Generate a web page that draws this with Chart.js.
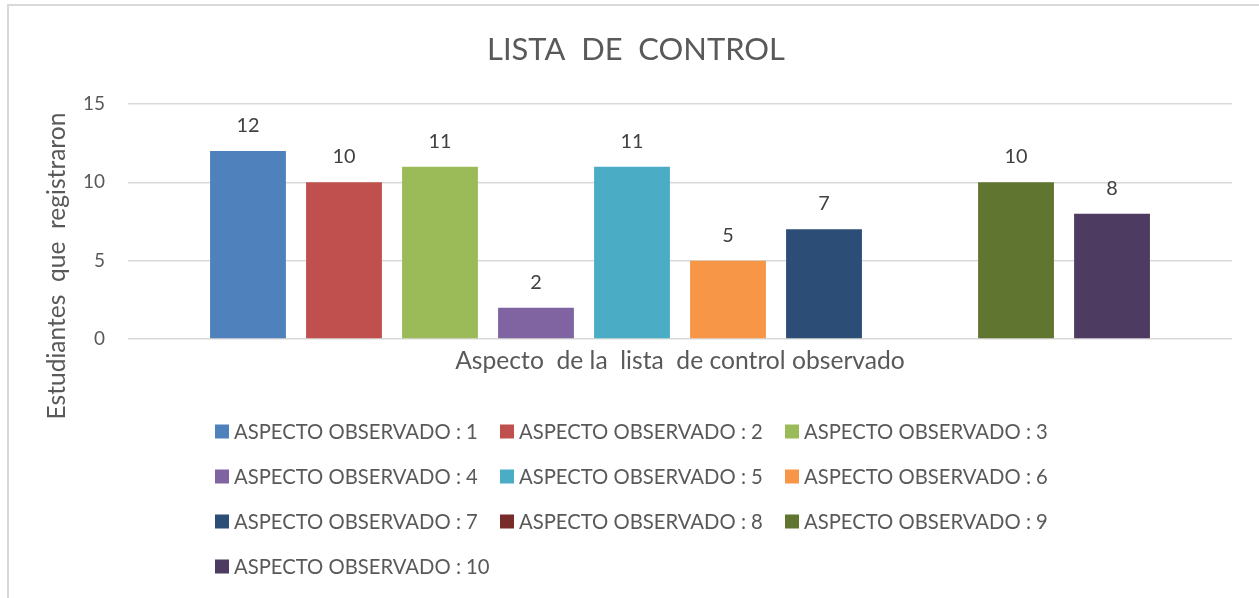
<!DOCTYPE html>
<html>
<head>
<meta charset="utf-8">
<script src="https://cdn.jsdelivr.net/npm/chart.js@4.4.0/dist/chart.umd.min.js"></script>
<style>
  html, body { margin: 0; padding: 0; background: #ffffff; }
  #wrap { width: 1259px; height: 598px; position: relative; }
</style>
</head>
<body>
<div id="wrap"><canvas id="c"></canvas></div>
<script>
// ---- data ----
const categories = [""];
const seriesNames = [
  "ASPECTO OBSERVADO : 1", "ASPECTO OBSERVADO : 2", "ASPECTO OBSERVADO : 3",
  "ASPECTO OBSERVADO : 4", "ASPECTO OBSERVADO : 5", "ASPECTO OBSERVADO : 6",
  "ASPECTO OBSERVADO : 7", "ASPECTO OBSERVADO : 8", "ASPECTO OBSERVADO : 9",
  "ASPECTO OBSERVADO : 10"
];
const seriesValues = [12, 10, 11, 2, 11, 5, 7, null, 10, 8];
const seriesColors = [
  "#4F81BD", "#C0504D", "#9BBB59", "#8064A2", "#4BACC6",
  "#F79646", "#2C4D75", "#772C2A", "#5F7530", "#4D3B62"
];
const yTicks = [0, 5, 10, 15];
const chartTitle = "LISTA  DE  CONTROL";
const xTitle = "Aspecto  de la  lista  de control observado";
const yTitle = "Estudiantes  que  registraron";

// ---- fonts ----
const FAMILY = "Lato, 'Open Sans', sans-serif";
const measurer = document.createElement('canvas').getContext('2d');
function fitSize(text, target) {
  measurer.font = "100px " + FAMILY;
  return 100 * target / measurer.measureText(text).width;
}
const titleSize = fitSize(chartTitle, 298);
const xTitleSize = fitSize(xTitle, 450);
const yTitleSize = fitSize(yTitle, 307);
const legendSize = fitSize(seriesNames[0], 244);
const tickSize = fitSize("15", 22);
const labelSize = fitSize("12", 23);
const CAP = 0.72; // approx cap-height ratio for Lato

const datasets = seriesNames.map((name, i) => ({
  label: name,
  data: [seriesValues[i]],
  backgroundColor: seriesColors[i],
  borderWidth: 0,
  categoryPercentage: 0.8696,
  barPercentage: 0.79
}));

const deco = {
  id: 'deco',
  beforeDraw(chart) {
    const ctx = chart.ctx;
    ctx.save();
    ctx.fillStyle = '#ffffff';
    ctx.fillRect(0, 0, chart.width, chart.height);
    ctx.strokeStyle = '#d9d9d9';
    ctx.lineWidth = 2;
    ctx.strokeRect(8, 5, chart.width + 20, chart.height + 20);
    ctx.restore();
  },
  afterDatasetsDraw(chart) {
    const ctx = chart.ctx;
    ctx.save();
    ctx.font = labelSize + "px " + FAMILY;
    ctx.fillStyle = '#404040';
    ctx.textAlign = 'center';
    ctx.textBaseline = 'alphabetic';
    chart.data.datasets.forEach((ds, i) => {
      const meta = chart.getDatasetMeta(i);
      meta.data.forEach((el, j) => {
        const v = ds.data[j];
        if (v === null || v === undefined) return;
        ctx.fillText(String(v), el.x, el.y - 26 + CAP * labelSize / 2);
      });
    });
    ctx.restore();
  },
  afterDraw(chart) {
    const ctx = chart.ctx;
    const area = chart.chartArea;
    const cx = (area.left + area.right) / 2;
    ctx.save();
    ctx.fillStyle = '#595959';
    ctx.textAlign = 'center';
    ctx.textBaseline = 'alphabetic';
    // title
    ctx.font = titleSize + "px " + FAMILY;
    ctx.fillText(chartTitle, 636, 60);
    // x title
    ctx.font = xTitleSize + "px " + FAMILY;
    ctx.fillText(xTitle, cx, 369);
    // y title
    ctx.save();
    ctx.translate(65, 266);
    ctx.rotate(-Math.PI / 2);
    ctx.font = yTitleSize + "px " + FAMILY;
    ctx.fillText(yTitle, 0, 0);
    ctx.restore();
    // legend
    ctx.textAlign = 'left';
    ctx.font = legendSize + "px " + FAMILY;
    const startX = 215, colW = 285, rowY0 = 431.5, rowH = 45, box = 14;
    chart.data.datasets.forEach((ds, i) => {
      const col = i % 3, row = Math.floor(i / 3);
      const x = startX + col * colW;
      const y = rowY0 + row * rowH;
      ctx.fillStyle = ds.backgroundColor;
      ctx.fillRect(x, y - box / 2, box, box);
      ctx.fillStyle = '#595959';
      ctx.fillText(ds.label, x + box + 5, y + CAP * legendSize / 2);
    });
    ctx.restore();
  }
};

new Chart(document.getElementById('c'), {
  type: 'bar',
  data: { labels: categories, datasets: datasets },
  options: {
    responsive: true,
    maintainAspectRatio: false,
    animation: false,
    layout: { padding: { top: 104, left: 0, right: 27, bottom: 0 } },
    plugins: {
      legend: { display: false },
      title: { display: false },
      tooltip: { enabled: false }
    },
    scales: {
      x: {
        ticks: { display: false },
        grid: { display: false },
        border: { display: false },
        afterFit(s) { s.height = 259; }
      },
      y: {
        min: yTicks[0],
        max: yTicks[yTicks.length - 1],
        ticks: {
          stepSize: yTicks[1] - yTicks[0],
          color: '#595959',
          font: { family: FAMILY, size: tickSize },
          padding: 23
        },
        grid: { color: '#d9d9d9', lineWidth: 1.5, drawTicks: false },
        border: { display: false },
        afterFit(s) { s.width = 128; }
      }
    }
  },
  plugins: [deco]
});
</script>
</body>
</html>
